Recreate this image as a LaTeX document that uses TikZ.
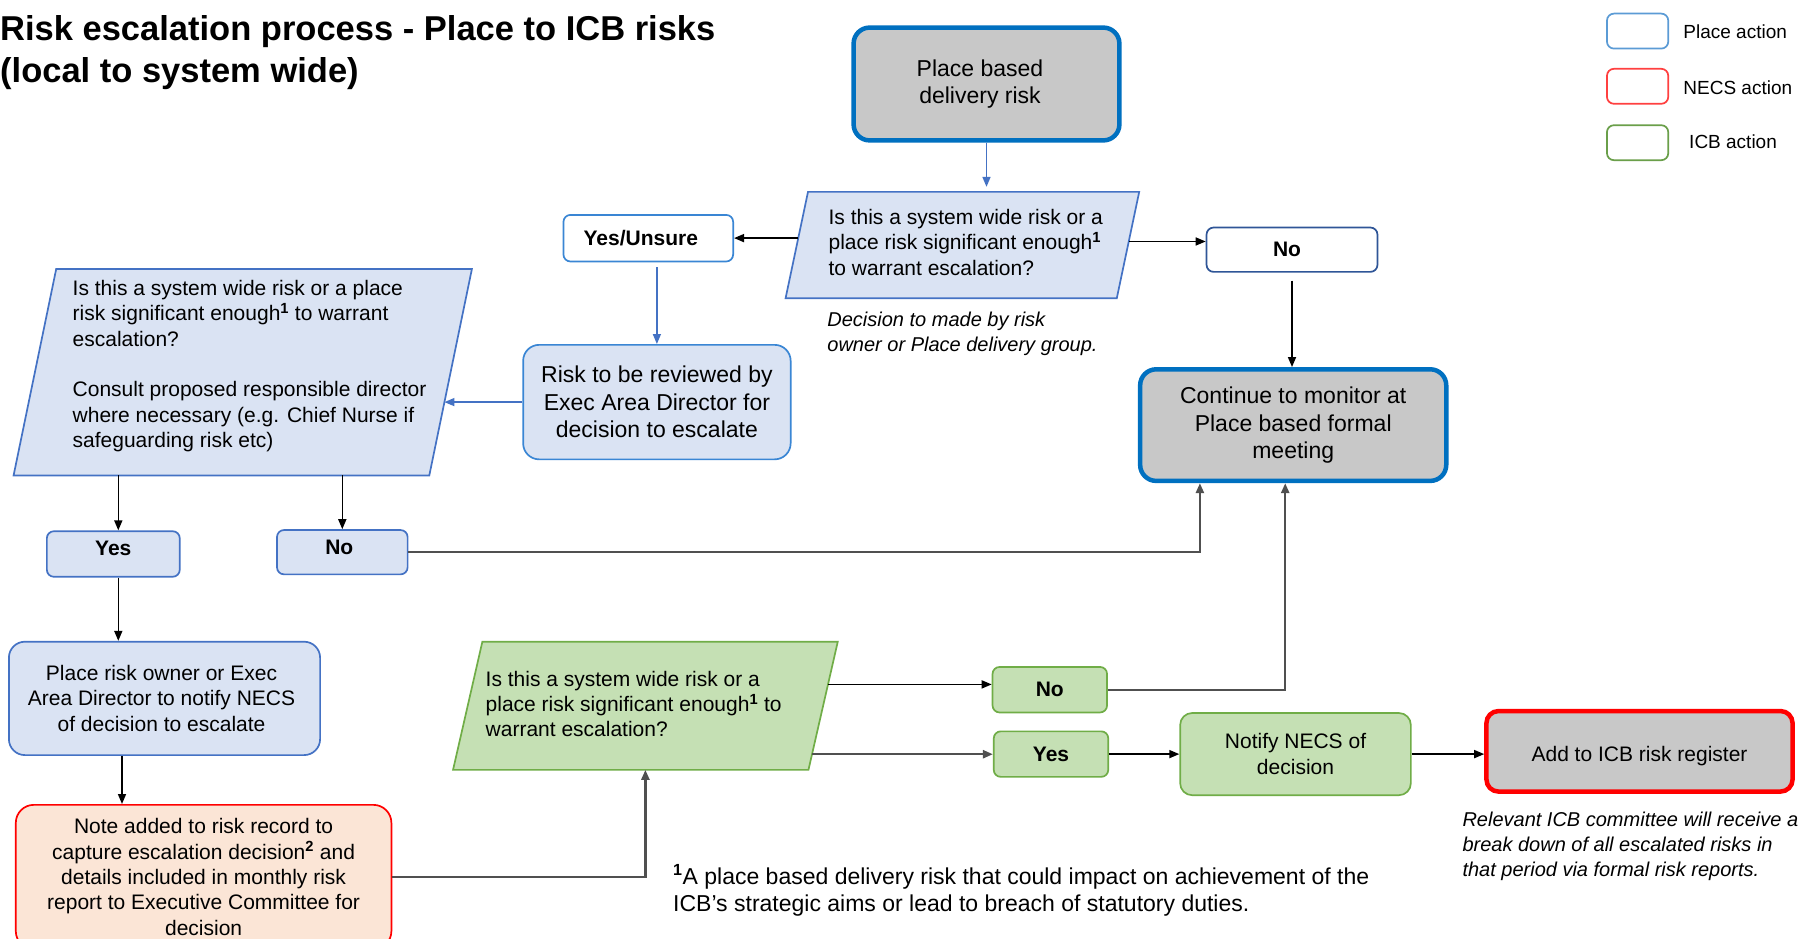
\documentclass[tikz,border=0pt]{standalone}
\usepackage{fontspec}
\setmainfont{Liberation Sans}
\usetikzlibrary{arrows.meta,calc}
\definecolor{blueT}{HTML}{0070C0}
\definecolor{grayF}{HTML}{C8C8C8}
\definecolor{ltB}{HTML}{DAE3F3}
\definecolor{bordB}{HTML}{4472C4}
\definecolor{brightB}{HTML}{3A86D4}
\definecolor{darkB}{HTML}{2F5597}
\definecolor{legB}{HTML}{5B9BD5}
\definecolor{legR}{HTML}{FF4040}
\definecolor{legG}{HTML}{6A9F4A}
\definecolor{grnF}{HTML}{C5E0B4}
\definecolor{grnB}{HTML}{70AD47}
\definecolor{peach}{HTML}{FBE5D6}
\definecolor{redB}{HTML}{FF0000}
\definecolor{lineG}{HTML}{505050}
\definecolor{arrB}{HTML}{4472C4}
\newcommand\fsTitle{\fontsize{34.5pt}{42.6pt}\selectfont\bfseries}
\newcommand\fsBig{\fontsize{23pt}{27.6pt}\selectfont}
\newcommand\fsBody{\fontsize{21pt}{25.3pt}\selectfont}
\newcommand\fsBold{\fontsize{21pt}{25.3pt}\selectfont\bfseries}
\newcommand\fsIt{\fontsize{20pt}{25pt}\selectfont\itshape}
\newcommand\fsLeg{\fontsize{19pt}{23pt}\selectfont}
\newcommand\supb[1]{\textsuperscript{\textbf{#1}}}
\begin{document}
\begin{tikzpicture}[x=1pt,y=-1pt,
  base/.style={rectangle, inner sep=0pt, align=center},
  thickgray/.style={base, fill=grayF, draw=blueT, line width=4.5pt, rounded corners=16pt, font=\fsBig},
  ltbox/.style={base, fill=ltB, draw=bordB, line width=1.7pt, rounded corners=16pt, font=\fsBody},
  smallbox/.style={base, fill=ltB, draw=bordB, line width=1.7pt, rounded corners=7pt, font=\fsBold},
  wbox/.style={base, fill=white, line width=1.7pt, rounded corners=7pt, font=\fsBold},
  grnbox/.style={base, fill=grnF, draw=grnB, line width=1.7pt, rounded corners=7pt, font=\fsBold},
  legbox/.style={base, fill=white, line width=1.7pt, rounded corners=7pt, minimum width=61.3pt, minimum height=35pt},
  paraBlue/.style={fill=ltB, draw=bordB, line width=1.7pt},
  paraGreen/.style={fill=grnF, draw=grnB, line width=1.7pt},
  ptext/.style={inner sep=0pt, align=left, font=\fsBody},
  itext/.style={inner sep=0pt, align=left, font=\fsIt},
  arrK/.style={draw=black, line width=1.6pt, -{Triangle[length=10pt,width=8pt]}},
  arrG/.style={draw=lineG, line width=2.4pt, -{Triangle[length=10pt,width=8pt]}},
  arrBl/.style={draw=arrB, line width=1.5pt, -{Triangle[length=10pt,width=8pt]}}
]
\useasboundingbox (0,0) rectangle (1804,939);
\fill[white] (0,0) rectangle (1804,939);

% title
\node[inner sep=0pt, align=left, anchor=north west, font=\fsTitle] (title) at (0,15)
  {Risk escalation process - Place to ICB risks\\(local to system wide)};

% legend
\node[legbox, draw=legB] (lg1) at (1637.6,31.1) {};
\node[legbox, draw=legR] (lg2) at (1637.6,86.3) {};
\node[legbox, draw=legG] (lg3) at (1637.6,142.7) {};
\node[inner sep=0pt, anchor=west, font=\fsLeg] (lt1) at (1683.2,32.2) {Place action};
\node[inner sep=0pt, anchor=west, font=\fsLeg] (lt2) at (1683.2,87.4) {NECS action};
\node[inner sep=0pt, anchor=west, font=\fsLeg] (lt3) at (1689,141.5) {ICB action};

% top box
\node[thickgray, minimum width=265.8pt, minimum height=112.8pt] (top) at (986.5,84)
  {\hspace*{-13pt}Place based\\\hspace*{-13pt}delivery risk};

% first decision parallelogram
\node[base, minimum width=353.2pt, minimum height=105.9pt] (q1) at (962.4,245) {};
\coordinate (q1-nw) at ([xshift=22.4pt]q1.north west);
\coordinate (q1-ne) at (q1.north east);
\coordinate (q1-se) at ([xshift=-22.4pt]q1.south east);
\coordinate (q1-sw) at (q1.south west);
\path[paraBlue] (q1-nw) -- (q1-ne) -- (q1-se) -- (q1-sw) -- cycle;
\node[ptext, anchor=west] (q1t) at (828.4,242.2)
  {Is this a system wide risk or a\\place risk significant enough\supb{1}\\to warrant escalation?};
\node[itext, anchor=west] (dec) at (827.2,333.6)
  {Decision to made by risk\\owner or Place delivery group.};

% yes/unsure and no
\node[wbox, draw=brightB, minimum width=169.7pt, minimum height=46.6pt] (yu) at (648.3,238.2) {\hspace*{-15pt}Yes/Unsure};
\node[wbox, draw=darkB, minimum width=170.9pt, minimum height=44.3pt] (notop) at (1292,249.7) {\hspace*{-10pt}No};

% continue box
\node[thickgray, minimum width=306.1pt, minimum height=111.6pt] (cont) at (1293.2,425.1)
  {Continue to monitor at\\Place based formal\\meeting};

% risk review
\node[ltbox, draw=brightB, font=\fsBig, minimum width=267.5pt, minimum height=114.5pt] (risk) at (656.9,402.1)
  {Risk to be reviewed by\\Exec Area Director for\\decision to escalate};

% left parallelogram
\node[base, minimum width=457.9pt, minimum height=206pt] (lp) at (242.75,372.2) {};
\coordinate (lp-nw) at ([xshift=42.6pt]lp.north west);
\coordinate (lp-ne) at (lp.north east);
\coordinate (lp-se) at ([xshift=-42.6pt]lp.south east);
\coordinate (lp-sw) at (lp.south west);
\path[paraBlue] (lp-nw) -- (lp-ne) -- (lp-se) -- (lp-sw) -- cycle;
\node[ptext, anchor=west] (lpt) at (72.5,366)
  {Is this a system wide risk or a place\\risk significant enough\supb{1} to warrant\\escalation?\\[25.3pt]Consult proposed responsible director\\where necessary (e.g. Chief Nurse if\\safeguarding risk etc)};

% yes / no left
\node[smallbox, minimum width=132.9pt, minimum height=45.5pt, text height=11pt, text depth=8pt] (yesL) at (113.3,554) {Yes};
\node[smallbox, minimum width=130.6pt, minimum height=44.3pt, text height=12pt, text depth=7pt] (noL) at (342.3,552.2) {\hspace*{-6pt}No};

% place owner
\node[ltbox, minimum width=311.2pt, minimum height=113.4pt] (owner) at (164.5,698.4)
  {\hspace*{-6pt}Place risk owner or Exec\\\hspace*{-6pt}Area Director to notify NECS\\\hspace*{-6pt}of decision to escalate};

% note
\node[base, fill=peach, draw=redB, line width=1.7pt, rounded corners=18pt, font=\fsBody,
  minimum width=375.6pt, minimum height=144.3pt] (note) at (203.6,877)
  {Note added to risk record to\\capture escalation decision\supb{2} and\\details included in monthly risk\\report to Executive Committee for\\decision};

% green parallelogram
\node[base, minimum width=384.3pt, minimum height=127.7pt] (gp) at (645.4,705.8) {};
\coordinate (gp-nw) at ([xshift=29.3pt]gp.north west);
\coordinate (gp-ne) at (gp.north east);
\coordinate (gp-se) at ([xshift=-29.3pt]gp.south east);
\coordinate (gp-sw) at (gp.south west);
\path[paraGreen] (gp-nw) -- (gp-ne) -- (gp-se) -- (gp-sw) -- cycle;
\node[ptext, anchor=west] (gpt) at (485.5,704.1)
  {Is this a system wide risk or a\\place risk significant enough\supb{1} to\\warrant escalation?};

% green boxes
\node[grnbox, minimum width=114.5pt, minimum height=45.5pt] (noG) at (1049.8,689.7) {No};
\node[grnbox, minimum width=114.5pt, minimum height=45.5pt] (yesG) at (1051,754.1) {Yes};
\node[grnbox, font=\fsBody, rounded corners=12pt, minimum width=230.7pt, minimum height=82.2pt] (notify) at (1295.5,754.1)
  {Notify NECS of\\decision};
\node[base, fill=grayF, draw=redB, line width=4.5pt, rounded corners=12pt, font=\fsBody,
  minimum width=306.1pt, minimum height=80.5pt, text height=21pt, text depth=0pt] (add) at (1639.5,751.3) {Add to ICB risk register};

% notes
\node[itext, anchor=west] (rel) at (1462.3,846)
  {Relevant ICB committee will receive a\\break down of all escalated risks in\\that period via formal risk reports.};
\node[inner sep=0pt, align=left, anchor=west, font=\fsBig] (foot) at (673,890.5)
  {\supb{1}A place based delivery risk that could impact on achievement of the\\ICB’s strategic aims or lead to breach of statutory duties.};

% connectors
\draw[arrBl, shorten >=5pt] (top.south) -- (top.south |- q1.north);
\coordinate (a1) at ($(q1-nw)!0.435!(q1-sw)$);
\draw[arrK] (a1) -- (a1 -| yu.east);
\coordinate (a2) at ($(q1-ne)!0.467!(q1-se)$);
\draw[arrK] (a2) -- (a2 -| notop.west);
\draw[arrK, shorten <=8pt] (notop.south) -- (notop.south |- cont.north);
\draw[arrBl, shorten <=5pt] (risk.north |- yu.south) -- (risk.north);
\coordinate (a3) at ($(lp-ne)!0.645!(lp-se)$);
\draw[arrBl] (risk.west) -- (a3 |- risk.west);
\draw[arrK] ([xshift=5pt]yesL.north |- lp.south) -- ([xshift=5pt]yesL.north);
\draw[arrK] (noL.north |- lp.south) -- (noL.north);
\draw[arrG] (noL.east) -| ([xshift=62pt]cont.south west);
\draw[arrK] ([xshift=5pt]yesL.south) -- ([xshift=5pt]yesL.south |- owner.north);
\draw[arrK] ([xshift=-42.5pt]owner.south) -- ([xshift=-42.5pt]owner.south |- note.north);
\draw[arrG] (note.east) -| (gp.south);
\coordinate (a4) at ($(gp-ne)!0.333!(gp-se)$);
\draw[arrK] (a4) -- (a4 -| noG.west);
\draw[arrG] (noG.east) -| ([xshift=-8pt]cont.south);
\coordinate (a5) at ($(gp-ne)!0.878!(gp-se)$);
\draw[arrG] (a5) -- (a5 -| yesG.west);
\draw[arrK] (yesG.east) -- (yesG.east -| notify.west);
\draw[arrK] (notify.east) -- (notify.east -| add.west);
\end{tikzpicture}
\end{document}
